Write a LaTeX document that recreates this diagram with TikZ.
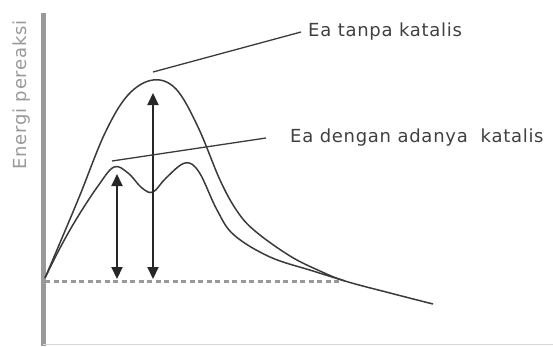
\documentclass[tikz,border=0pt]{standalone}
\usepackage{fontspec}
\usetikzlibrary{arrows.meta}
\newfontfamily\labfont{DejaVu Sans}[LetterSpace=4]
\definecolor{axisgray}{HTML}{999999}
\definecolor{curvegray}{HTML}{3A3A3A}
\definecolor{txtgray}{HTML}{404040}
\begin{document}
\begin{tikzpicture}[x=1pt,y=-1pt,
  curve/.style={draw=curvegray,line width=1.5pt,smooth,tension=0.6},
  ea/.style={draw=black!85,line width=2pt,{Triangle[width=11pt,length=12pt]}-{Triangle[width=11pt,length=12pt]}},
  leader/.style={draw=curvegray,line width=1.3pt},
  lab/.style={font=\labfont\fontsize{18}{20}\selectfont,text=txtgray,inner sep=0pt,anchor=west}]
\useasboundingbox (0,0) rectangle (553,346);
% axes
\draw[axisgray,line width=5pt] (43,13) -- (43,346);
\draw[axisgray!40,line width=0.8pt] (43,344.5) -- (553,344.5);
\node[lab,text=axisgray,rotate=90,anchor=center] (ylab) at (22,95) {Energi pereaksi};
% baseline (reactants)
\coordinate (b0) at (45,281);
\coordinate (b1) at (340,281);
\draw[axisgray,line width=3pt,dash pattern=on 5pt off 3.5pt] (b0) -- (b1);
% uncatalysed curve
\draw[curve] plot coordinates {(45,278) (62,238) (80,195) (105,133) (128,95) (153,80) (176,89) (198,127) (220,180) (237,211) (255,231) (290,256) (320,271) (345,281) (390,293) (433,304)};
% catalysed curve
\draw[curve] plot coordinates {(45,278) (60,248) (77,218) (98,186) (114,167) (128,173) (142,188) (153,192) (166,178) (185,163) (199,172) (217,210) (234,235) (270,257) (313,271) (345,281)};
% activation energy arrows
\coordinate (a1t) at (117,174);
\coordinate (a1b) at (117,279);
\coordinate (a2t) at (153,93);
\coordinate (a2b) at (153,279);
\draw[ea] (a1t) -- (a1b);
\draw[ea] (a2t) -- (a2b);
% labels
\node[lab] (l1) at (308,32) {Ea tanpa katalis};
\node[lab] (l2) at (290,138) {Ea dengan adanya\ \ katalis};
\coordinate (p1) at (153,72);
\coordinate (p2) at (112,161);
\draw[leader] (p1) -- ([xshift=-7pt]l1.west);
\draw[leader] (p2) -- ([xshift=-24pt]l2.west);
\end{tikzpicture}
\end{document}
